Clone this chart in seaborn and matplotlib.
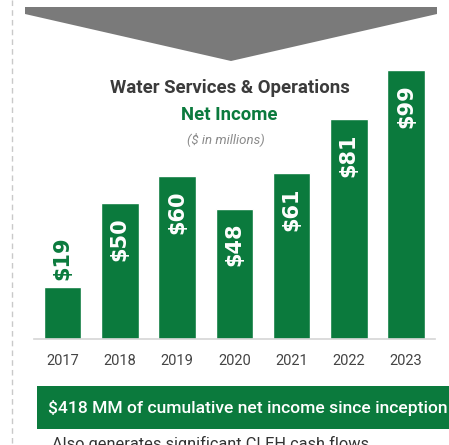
import matplotlib
matplotlib.use("Agg")
import matplotlib.pyplot as plt
from matplotlib.patches import Polygon, Rectangle
from matplotlib.lines import Line2D
import seaborn as sns
import pandas as pd

# Net income by year ($ in millions)
years = ["2017", "2018", "2019", "2020", "2021", "2022", "2023"]
net_income = [19, 50, 60, 48, 61, 81, 99]
value_labels = ["$19", "$50", "$60", "$48", "$61", "$81", "$99"]

title_text = "Water Services & Operations"
subtitle_text = "Net Income"
unit_text = "($ in millions)"
banner_text = "$418 MM of cumulative net income since inception"
footer_text = "Also generates significant CLEH cash flows"

GREEN = "#0b7a3d"
DARK = "#3b3b3b"
SANS = ["Roboto", "DejaVu Sans"]

sns.set_theme(style="white")
plt.rcParams["font.family"] = SANS

W, H = 449, 445
fig = plt.figure(figsize=(W / 100, H / 100), dpi=100)
fig.patch.set_facecolor("white")
renderer = fig.canvas.get_renderer()


def px(x, y):
    """Pixel coords (from top-left) to figure fraction."""
    return x / W, 1 - y / H


def fit_width(txt, target_px):
    """Scale a text's font so it spans target_px horizontally."""
    w = txt.get_window_extent(renderer=renderer).width
    txt.set_fontsize(txt.get_fontsize() * target_px / w)


# Background layer for decorations
bg = fig.add_axes([0, 0, 1, 1])
bg.set_xlim(0, W)
bg.set_ylim(H, 0)
bg.axis("off")

# dashed guide on the left
bg.add_line(Line2D([12, 12], [0, H], color="#c9c9c9", lw=1, ls=(0, (4, 3))))

# chevron at the top
bg.add_patch(Polygon([(25, 7), (437, 7), (437, 14), (231, 61), (25, 14)],
                     closed=True, facecolor="#7a7a7a", edgecolor="none"))

# titles
t1 = bg.text(229.5, 88, title_text, ha="center", va="center", fontsize=11,
             fontweight="bold", color=DARK)
fit_width(t1, 240)
t2 = bg.text(229.5, 115, subtitle_text, ha="center", va="center", fontsize=11,
             fontweight="bold", color=GREEN)
fit_width(t2, 96)
t3 = bg.text(226, 139, unit_text, ha="center", va="center", fontsize=8,
             style="italic", color="#8a8a8a")
fit_width(t3, 78)

# banner
bg.add_patch(Rectangle((37, 386), W - 37, 43, facecolor=GREEN, edgecolor="none"))
tb = bg.text(48, 408, banner_text, ha="left", va="center", fontsize=12,
             color="white", fontweight="medium")
fit_width(tb, 399)

# footer line, partially cut by the figure edge
tf = bg.text(52, 436, footer_text, ha="left", va="top", fontsize=11,
             color="#333333")
fit_width(tf, 314)

# bar chart
left, bottom = px(33.9, 339)
right, top = px(434.7, 40)
ax = fig.add_axes([left, bottom, right - left, top - bottom])
df = pd.DataFrame({"year": years, "value": net_income})
sns.barplot(data=df, x="year", y="value", color=GREEN, saturation=1,
            width=0.655, ax=ax)
ax.set_xlim(-0.5, 6.5)
ax.set_ylim(0, 110)
ax.set_facecolor("none")
for s in ["top", "right", "left"]:
    ax.spines[s].set_visible(False)
ax.spines["bottom"].set_color("#d5d5d5")
ax.spines["bottom"].set_linewidth(1.2)
ax.set_yticks([])
ax.set_xlabel("")
ax.set_ylabel("")
ax.tick_params(axis="x", length=0, pad=11)
for lab in ax.get_xticklabels():
    lab.set_fontsize(10.5)
    lab.set_color("#444444")

for i, (v, t) in enumerate(zip(net_income, value_labels)):
    if v < 30:
        ax.text(i, v + 2.6, t, rotation=90, ha="center", va="bottom",
                fontsize=15, fontweight="bold", color=GREEN,
                family="DejaVu Sans")
    else:
        ax.text(i, v - 5.3, t, rotation=90, ha="center", va="top",
                fontsize=15, fontweight="bold", color="white",
                family="DejaVu Sans")

fig.savefig("out.png", dpi=100, facecolor="white")
